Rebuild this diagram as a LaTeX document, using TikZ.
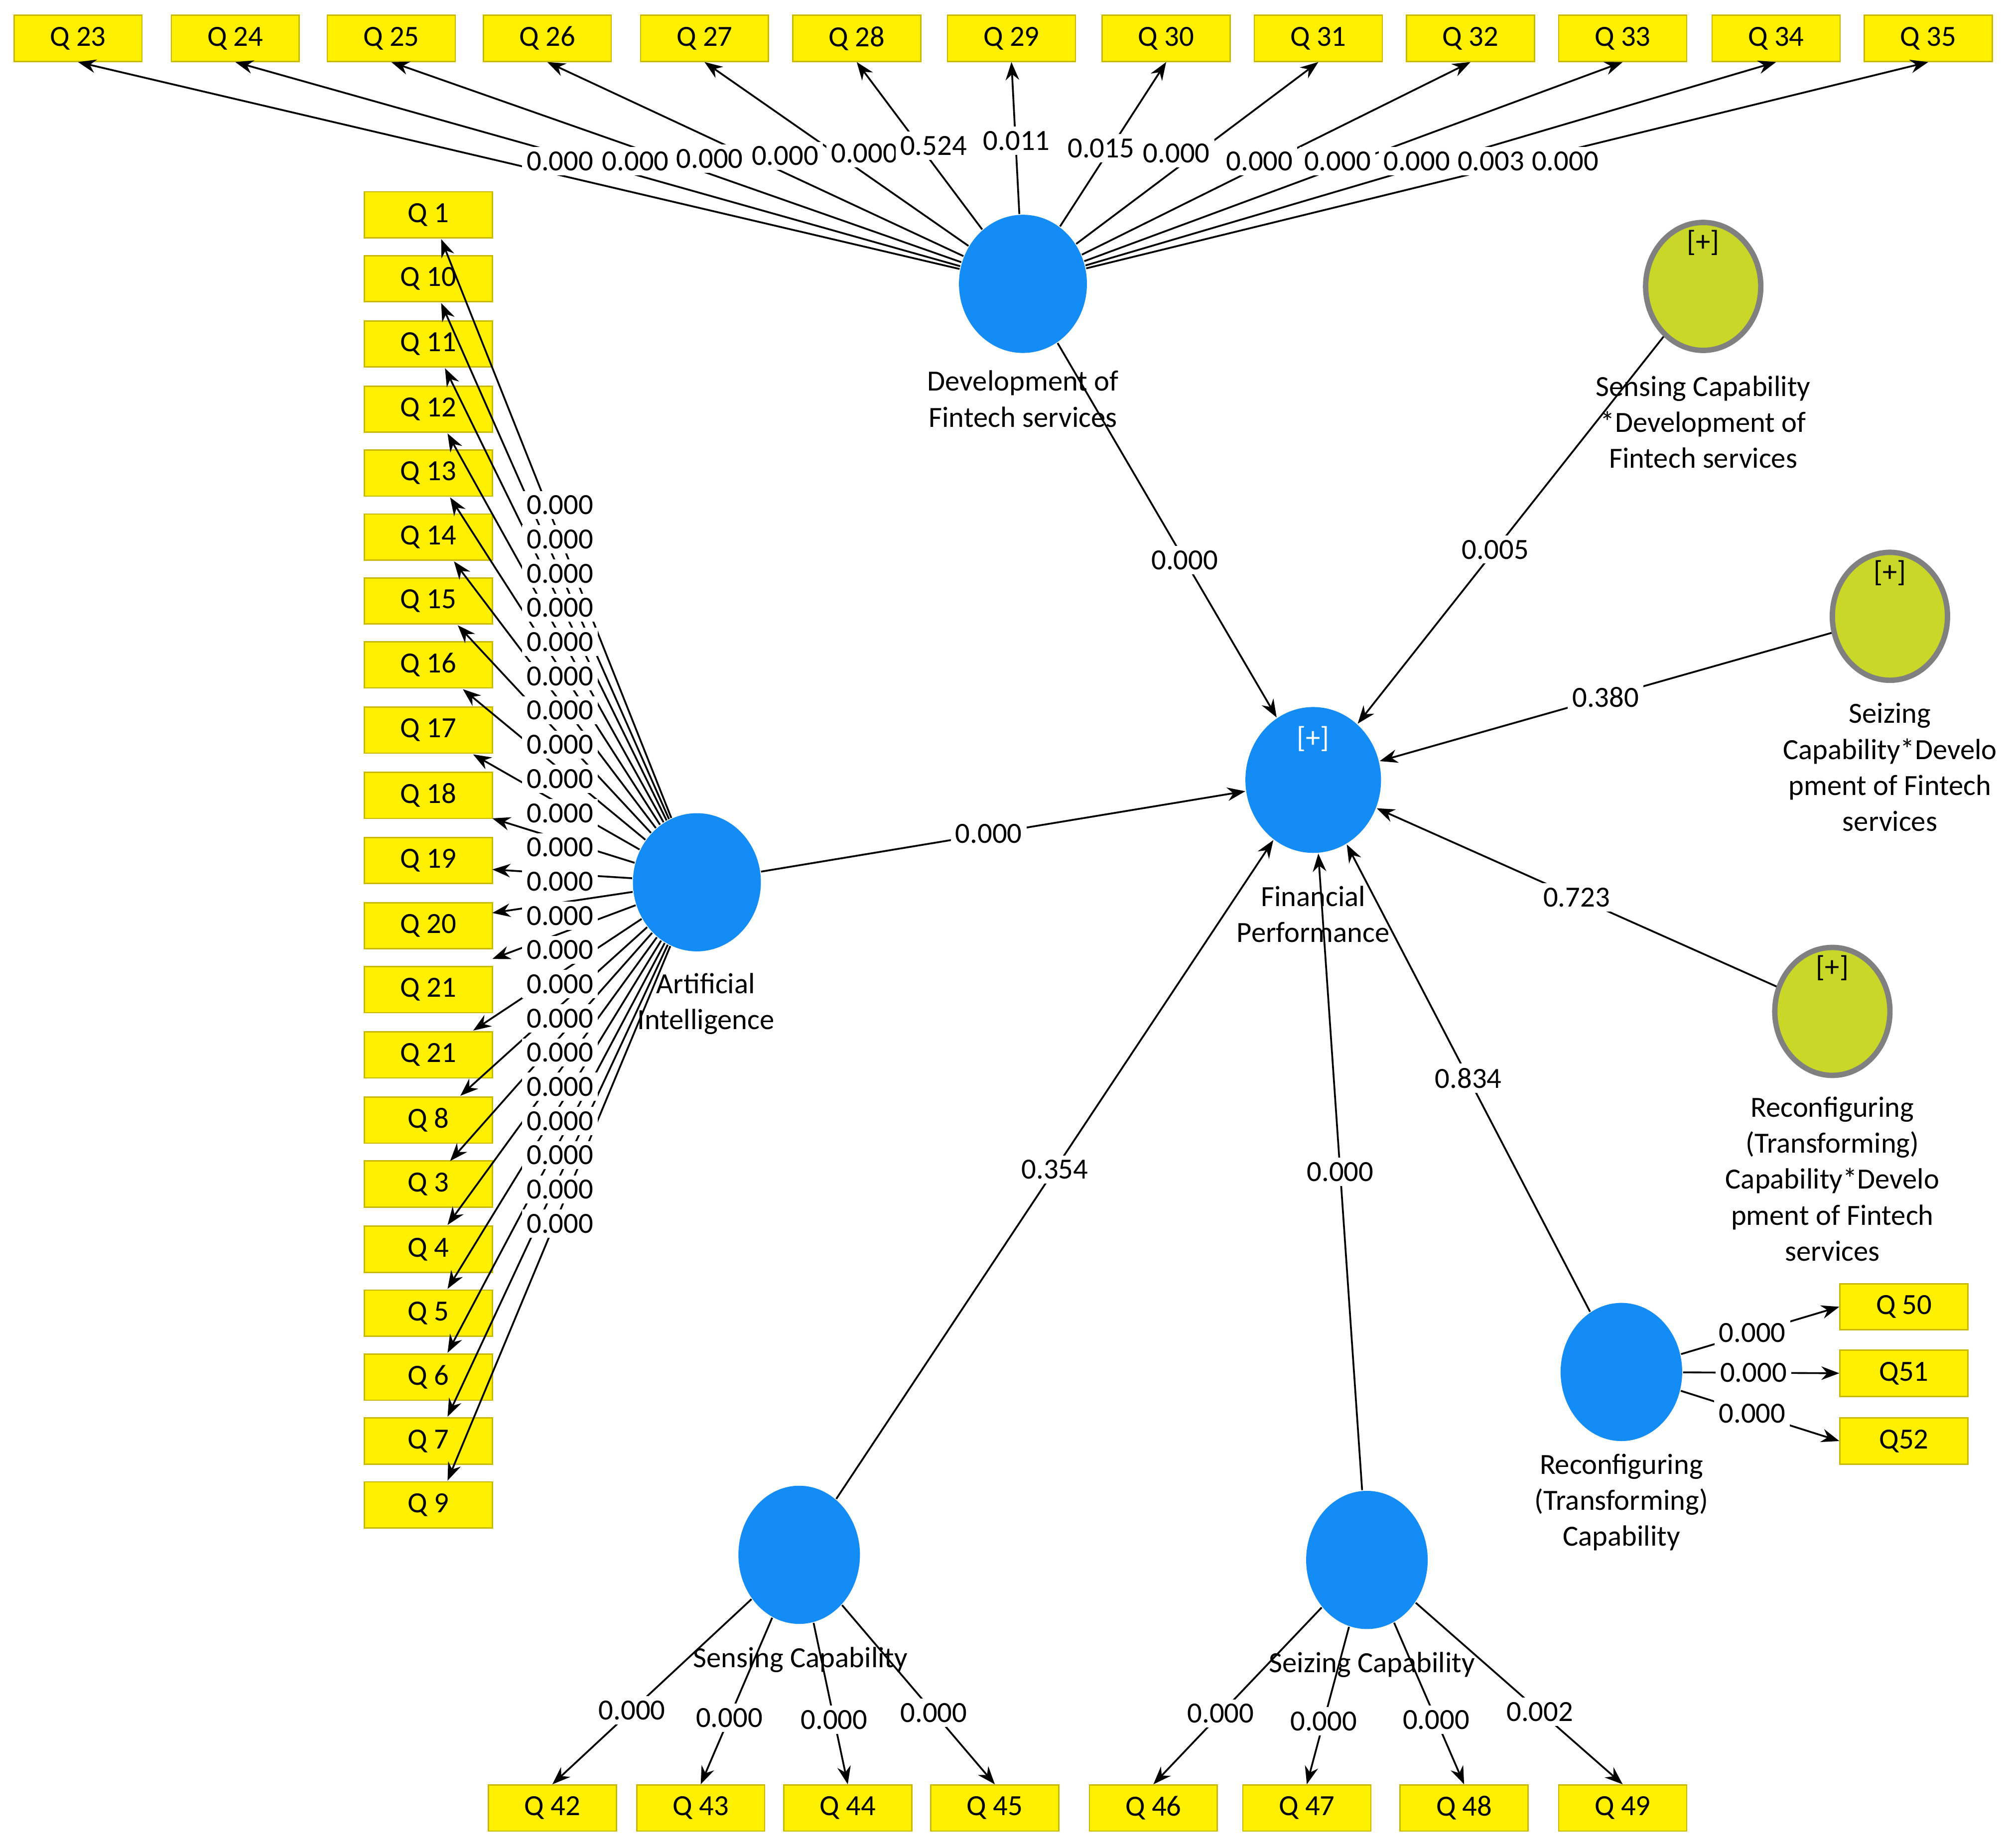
\documentclass[tikz,border=0pt]{standalone}
\usepackage{fontspec}
\setmainfont{Carlito}
\usetikzlibrary{shapes.geometric,arrows.meta}
\definecolor{lvblue}{RGB}{20,140,245}
\definecolor{qyel}{RGB}{255,240,0}
\definecolor{qbord}{RGB}{200,185,0}
\definecolor{modfill}{RGB}{200,215,40}
\begin{document}
\begin{tikzpicture}[x=0.01cm,y=-0.01cm,
  font=\fontsize{6.5}{8}\selectfont,
  qbox/.style={draw=qbord,fill=qyel,minimum width=1cm,minimum height=0.36cm,inner sep=0pt,line width=0.3pt},
  lv/.style={ellipse,fill=lvblue,minimum width=1cm,minimum height=1.08cm,inner sep=0pt},
  mod/.style={ellipse,fill=modfill,draw=gray,line width=1.2pt,minimum width=0.9cm,minimum height=1cm,inner sep=0pt},
  arr/.style={-{Stealth[length=4pt,width=3pt]},line width=0.4pt},
  lbl/.style={fill=white,inner sep=1pt},
  txt/.style={align=center,inner sep=0pt}]
\useasboundingbox (0,0) rectangle (1568,1445);
% latent variables
\node[lv] (dev) at (800,222) {};
\node[lv] (ai) at (545,690) {};
\node[lv,minimum width=1.06cm,minimum height=1.14cm] (fp) at (1027,610) {};
\node[text=white] at (1027,578) {[+]};
\node[lv,minimum width=0.95cm] (rc) at (1268,1073) {};
\node[lv,minimum width=0.95cm] (sc) at (625,1216) {};
\node[lv,minimum width=0.95cm] (zc) at (1069,1220) {};
\node[mod] (m1) at (1332,224) {};
\node[mod] (m2) at (1478,482) {};
\node[mod] (m3) at (1433,791) {};
\node at (1332,190) {[+]};
\node at (1478,448) {[+]};
\node at (1433,757) {[+]};
% labels
\node[txt] at (800,312) {Development of\\Fintech services};
\node[txt] at (552,785) {Artificial\\Intelligence};
\node[txt] at (1027,715) {Financial\\Performance};
\node[txt] at (1332,330) {Sensing Capability\\*Development of\\Fintech services};
\node[txt] at (1478,600) {Seizing\\Capability*Develo\\pment of Fintech\\services};
\node[txt] at (1433,922) {Reconfiguring\\(Transforming)\\Capability*Develo\\pment of Fintech\\services};
\node[txt] at (1268,1175) {Reconfiguring\\(Transforming)\\Capability};
\node[txt] at (626,1298) {Sensing Capability};
\node[txt] at (1073,1302) {Seizing Capability};
% top boxes
\foreach \n/\x/\v/\p in {23/61/0.000/0.6,24/184/0.000/0.6,25/306/0.000/0.6,26/428/0.000/0.6,27/551/0.000/0.6,28/670/0.000/0.6,29/791/0.011/0.6,30/912/0.015/0.6,31/1031/0.000/0.6,32/1150/0.000/0.6,33/1269/0.000/0.6,34/1389/0.003/0.6,35/1508/0.000/0.6}{
  \node[qbox] (t\n) at (\x,30) {Q \n};
}
\foreach \n/\v/\lx/\ly in {23/0.000/438/126,24/0.000/497/126,25/0.000/555/124,26/0.000/614/122,27/0.000/676/120,28/0.524/730/114,29/0.011/795/110,30/0.015/861/116,31/0.000/920/120,32/0.000/985/126,33/0.000/1046/126,34/0.000/1108/126,35/0.003/1166/126}{
  \draw[arr] (dev) -- (t\n.south);
}
\foreach \v/\lx/\ly in {0.000/438/126,0.000/497/126,0.000/555/124,0.000/614/122,0.000/676/120,0.524/730/114,0.011/795/110,0.015/861/116,0.000/920/120,0.000/985/126,0.000/1046/126,0.000/1108/126,0.003/1166/126,0.000/1224/126}{
  \node[lbl] at (\lx,\ly) {\v};
}
% left boxes
\foreach \i/\t/\y in {1/1/168,2/10/218,3/11/269,4/12/320,5/13/370,6/14/420,7/15/470,8/16/520,9/17/571,10/18/622,11/19/673,12/20/724,13/21/774,14/21/825,15/8/876,16/3/926,17/4/977,18/5/1027,19/6/1077,20/7/1127,21/9/1177}{
  \node[qbox] (l\i) at (335,\y) {Q \t};
}
\foreach \i/\ex/\ey in {1/345/187,2/345/237,3/348/288,4/350/339,5/352/389,6/355/439,7/358/489,8/362/539,9/370/590,10/385/640,11/385/680,12/385/714,13/385/750,14/370/806,15/360/857,16/352/908,17/350/958,18/350/1008,19/350/1058,20/350/1108,21/350/1158}{
  \coordinate (e\i) at (\ex,\ey);
  \draw[arr] (ai) -- (e\i);
}
\foreach \j in {0,...,21}{
  \node[lbl] at (438,{395+\j*26.76}) {0.000};
}
% structural paths
\draw[arr] (ai) -- node[lbl,pos=0.47]{0.000} (fp);
\draw[arr] (dev) -- node[lbl,pos=0.58]{0.000} (fp);
\draw[arr] (m1) -- node[lbl,pos=0.55]{0.005} (fp);
\draw[arr] (m2) -- node[lbl,pos=0.5]{0.380} (fp);
\draw[arr] (m3) -- node[lbl,pos=0.5]{0.723} (fp);
\draw[arr] (rc) -- node[lbl,pos=0.5]{0.834} (fp);
\draw[arr] (zc) -- node[lbl,pos=0.5]{0.000} (fp);
\draw[arr] (sc) -- node[lbl,pos=0.5]{0.354} (fp);
% reconfiguring indicators
\node[qbox] (q50) at (1489,1022) {Q 50};
\node[qbox] (q51) at (1489,1074) {Q51};
\node[qbox] (q52) at (1489,1127) {Q52};
\foreach \q in {50,51,52}{\draw[arr] (rc) -- node[lbl,pos=0.45]{0.000} (q\q.west);}
% sensing indicators
\foreach \q/\x in {42/432,43/548,44/663,45/778}{
  \node[qbox] (q\q) at (\x,1414) {Q \q};
  \draw[arr] (sc) -- node[lbl,pos=0.6]{0.000} (q\q.north);
}
% seizing indicators
\foreach \q/\x/\v in {46/902/0.000,47/1022/0.000,48/1145/0.000,49/1269/0.002}{
  \node[qbox] (q\q) at (\x,1414) {Q \q};
  \draw[arr] (zc) -- node[lbl,pos=0.6]{\v} (q\q.north);
}
\end{tikzpicture}
\end{document}
